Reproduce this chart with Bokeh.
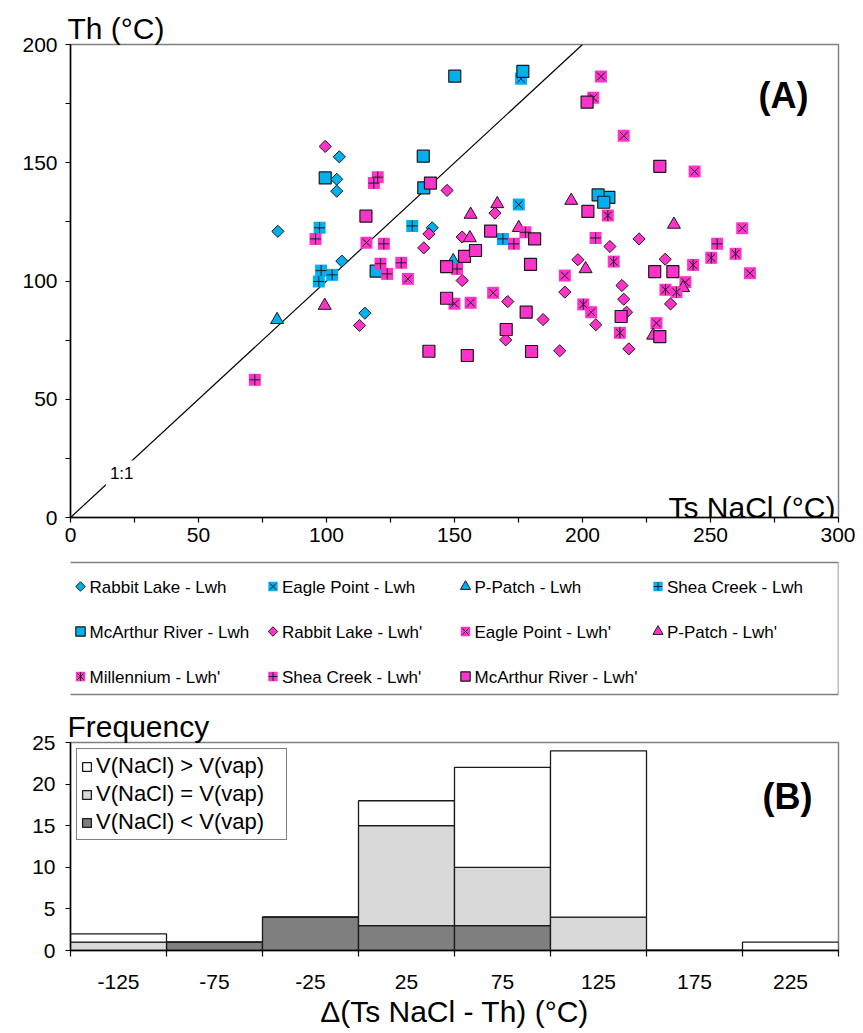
import numpy as np
from bokeh.plotting import figure
from bokeh.models import Range1d, FixedTicker, Label, Legend, LegendItem, ColumnDataSource
from bokeh.layouts import column
from bokeh.core.properties import value
from bokeh.embed import file_html
from bokeh.resources import INLINE

FONT = "Liberation Sans"
CYAN = "#00B0F0"
PINK = "#FF33CC"
EDGE = "#1a1a1a"

# ---------------- data: panel A (Ts NaCl vs Th) ----------------
rl_lwh_x = [81, 105, 104, 104, 106, 115, 141.3]
rl_lwh_y = [121, 152.5, 143, 138, 108.4, 86.4, 122.5]
ep_lwh_x = [176, 175.1]
ep_lwh_y = [185.5, 132.3]
pp_lwh_x = [80.7, 149.5]
pp_lwh_y = [83.6, 108.5]
sc_lwh_x = [97.3, 97.9, 102.2, 97, 133.5, 168.9]
sc_lwh_y = [122.5, 104.4, 102.6, 99.8, 123.3, 117.8]
mr_lwh_x = [150.1, 176.7, 137.8, 99.5, 138, 119.4, 210.3, 206.1, 208.3]
mr_lwh_y = [186.6, 188.6, 152.8, 143.6, 139.4, 104.2, 135.4, 136.4, 133.3]

rl_lwhp_x = [99.5, 147.1, 140, 138, 112.9, 153, 153, 165.8, 198.2, 210.7, 222.1, 193.1,
             170.8, 184.6, 170, 191.1, 205.2, 215.4, 216.1, 217.2, 218.1, 232.3, 234.4]
rl_lwhp_y = [156.9, 138.3, 119.9, 114, 81.2, 118.6, 100.2, 128.7, 109, 114.6, 117.8, 95.3,
             91.3, 83.7, 75.1, 70.5, 81.5, 98.1, 92.3, 86.8, 71.3, 109.2, 90.3]
ep_lwhp_x = [207.2, 204.2, 216.1, 243.8, 115.6, 131.8, 150, 156.3, 165.1, 193.1, 203.4,
             228.9, 262.4, 265.4, 240.2]
ep_lwhp_y = [186.5, 177.5, 161.4, 146.3, 116.2, 100.9, 90.4, 90.8, 95, 102.3, 86.8,
             82.2, 122.3, 103.3, 99.5]
pp_lwhp_x = [99.3, 156.3, 156, 166.7, 175.1, 195.6, 235.7, 201.2, 239.3, 227.6]
pp_lwhp_y = [89.6, 128.1, 118.2, 132.6, 122.5, 134, 123.9, 105.1, 97.1, 77]
mil_lwhp_x = [209.9, 212.2, 200.3, 214.6, 232.4, 243.2, 250.3, 259.8, 236.7]
mil_lwhp_y = [127.7, 108.2, 90.1, 78.1, 96.3, 106.8, 109.8, 111.5, 95.3]
sc_lwhp_x = [72, 120, 118.5, 95.7, 122.4, 121.1, 123.7, 129.2, 151, 173.2, 177.7, 205.1, 252.6]
sc_lwhp_y = [58.2, 143.9, 141.4, 117.8, 115.7, 107.3, 103, 107.7, 105.1, 115.7, 120.6, 118.2, 115.7]
mr_lwhp_x = [140.6, 115.4, 140, 155, 146.9, 146.9, 153.9, 158.2, 164.1, 179.7, 181.3, 202.1,
             201.8, 230.2, 178, 170.2, 180.1, 215.1, 228.2, 230.2, 235.3]
mr_lwhp_y = [141.4, 127.4, 70.3, 68.5, 106.1, 92.7, 110.4, 112.9, 121.1, 107, 117.8, 129.4,
             175.6, 148.5, 86.8, 79.5, 70.2, 85, 104, 76.5, 104]

one_to_one = [0, 200]

series = [
    ("Rabbit Lake - Lwh", "diamond", CYAN, rl_lwh_x, rl_lwh_y),
    ("Eagle Point - Lwh", "sq_x", CYAN, ep_lwh_x, ep_lwh_y),
    ("P-Patch - Lwh", "triangle", CYAN, pp_lwh_x, pp_lwh_y),
    ("Shea Creek - Lwh", "sq_cross", CYAN, sc_lwh_x, sc_lwh_y),
    ("McArthur River - Lwh", "square", CYAN, mr_lwh_x, mr_lwh_y),
    ("Rabbit Lake - Lwh'", "diamond", PINK, rl_lwhp_x, rl_lwhp_y),
    ("Eagle Point - Lwh'", "sq_x", PINK, ep_lwhp_x, ep_lwhp_y),
    ("P-Patch - Lwh'", "triangle", PINK, pp_lwhp_x, pp_lwhp_y),
    ("Millennium - Lwh'", "sq_ast", PINK, mil_lwhp_x, mil_lwhp_y),
    ("Shea Creek - Lwh'", "sq_cross", PINK, sc_lwhp_x, sc_lwhp_y),
    ("McArthur River - Lwh'", "square", PINK, mr_lwhp_x, mr_lwhp_y),
]

# ---------------- data: panel B (histogram) ----------------
bin_centers = [-125, -75, -25, 25, 75, 125, 175, 225]
bin_edges = [-150, -100, -50, 0, 50, 100, 150, 200, 250]
n_lt = [0, 1, 4, 3, 3, 0, 0, 0]    # V(NaCl) < V(vap)
n_eq = [1, 0, 0, 12, 7, 4, 0, 0]   # V(NaCl) = V(vap)
n_gt = [1, 0, 0, 3, 12, 20, 0, 1]  # V(NaCl) > V(vap)
hist_labels = ["V(NaCl) > V(vap)", "V(NaCl) = V(vap)", "V(NaCl) < V(vap)"]


def draw(fig, xs, ys, kind, color, s=1.0):
    if kind == "diamond":
        fig.scatter(xs, ys, marker="square", angle=np.pi / 4, size=8.6 * s,
                    fill_color=color, line_color=EDGE, line_width=1)
    elif kind == "square":
        fig.scatter(xs, ys, marker="square", size=12 * s,
                    fill_color=color, line_color=EDGE, line_width=1.2)
    elif kind == "triangle":
        fig.scatter(xs, ys, marker="triangle", size=13 * s,
                    fill_color=color, line_color=EDGE, line_width=1)
    else:
        fig.scatter(xs, ys, marker="square", size=12 * s, fill_color=color, line_color=None)
        if kind in ("sq_x", "sq_ast"):
            fig.scatter(xs, ys, marker="x", size=11 * s, line_color=EDGE, line_width=1)
        if kind == "sq_cross":
            fig.scatter(xs, ys, marker="cross", size=11 * s, line_color=EDGE, line_width=1)
        if kind == "sq_ast":
            fig.scatter(xs, ys, marker="dash", angle=np.pi / 2, size=11 * s,
                        line_color=EDGE, line_width=1)


def style_axis(ax, major, minor, fsize, standoff, major_out=5, minor_out=5):
    ax.ticker = FixedTicker(ticks=major, minor_ticks=minor)
    ax.major_tick_in = 0
    ax.major_tick_out = major_out
    ax.minor_tick_in = 0
    ax.minor_tick_out = minor_out
    ax.axis_line_color = "black"
    ax.axis_line_width = 1.5
    ax.major_tick_line_width = 1.2
    ax.minor_tick_line_width = 1.2
    ax.major_tick_line_color = "black"
    ax.minor_tick_line_color = "black"
    ax.major_label_text_font = FONT
    ax.major_label_text_font_size = fsize
    ax.major_label_text_color = "black"
    ax.major_label_standoff = standoff


def style_title(fig, text):
    fig.title.text = text
    fig.title.text_font = FONT
    fig.title.text_font_size = "30px"
    fig.title.text_font_style = "normal"
    fig.title.text_color = "black"
    fig.title.align = "left"
    fig.title.standoff = 0
    fig.title.offset = -3


# ---------------- panel A ----------------
pa = figure(width=855, height=557, x_range=Range1d(0, 300), y_range=Range1d(0, 200),
            min_border_left=70, min_border_right=17, min_border_top=44, min_border_bottom=40,
            toolbar_location=None, output_backend="svg",
            outline_line_color="#808080", outline_line_width=1.5)
pa.grid.visible = False
style_title(pa, "Th (°C)")
style_axis(pa.xaxis[0], [0, 50, 100, 150, 200, 250, 300], [25, 75, 125, 175, 225, 275], "21px", 5)
style_axis(pa.yaxis[0], [0, 50, 100, 150, 200], [25, 75, 125, 175], "21px", 8)

pa.line(one_to_one, one_to_one, line_color="black", line_width=1.2)
pa.add_layout(Label(x=20, y=18.4, text="1:1", text_font=FONT, text_font_size="17px",
                    text_color="black", text_align="center", text_baseline="middle",
                    background_fill_color="white", padding=4))

for label, kind, color, xs, ys in series:
    draw(pa, xs, ys, kind, color)

pa.add_layout(Label(x=300, y=0, x_offset=-3, y_offset=10, text="Ts NaCl (°C)", text_font=FONT,
                    text_font_size="30px", text_color="black",
                    text_baseline="alphabetic", text_align="right"))
pa.add_layout(Label(x=300, y=200, x_offset=-30, y_offset=-51, text="(A)", text_font=FONT,
                    text_font_size="36px", text_font_style="bold", text_color="black",
                    text_baseline="alphabetic", text_align="right"))

# ---------------- legend of panel A (its frame is aligned with panel A's frame) ----------------
pl = figure(width=855, height=148, x_range=Range1d(70, 838), y_range=Range1d(148, 0),
            min_border=0, x_axis_location=None, y_axis_location=None,
            toolbar_location=None, output_backend="svg", outline_line_color=None)
pl.grid.visible = False
pl.quad(left=[66], right=[838], top=[5], bottom=[137], fill_color="white",
        line_color="#7f7f7f", line_width=1.5)
col_x = [80, 272.5, 465, 657.5]
row_y = [29, 74, 119]
tx, ty, tt = [], [], []
for i, (label, kind, color, xs, ys) in enumerate(series):
    r, c = divmod(i, 4)
    draw(pl, [col_x[c]], [row_y[r]], kind, color, s=0.78)
    tx.append(col_x[c] + 9)
    ty.append(row_y[r] + 1)
    tt.append(label)
pl.text(x=tx, y=ty, text=tt, text_font=value(FONT), text_font_size="17px",
        text_baseline="middle", text_align="left", text_color="black")

# ---------------- panel B ----------------
pb = figure(width=855, height=328, x_range=Range1d(-150, 250), y_range=Range1d(0, 25),
            min_border_left=70, min_border_right=14, min_border_top=37, min_border_bottom=83,
            toolbar_location=None, output_backend="svg",
            outline_line_color="#808080", outline_line_width=1.5)
pb.grid.visible = False
style_title(pb, "Frequency")
src = ColumnDataSource(dict(x=bin_centers, lt=n_lt, eq=n_eq, gt=n_gt))
rs = pb.vbar_stack(["lt", "eq", "gt"], x="x", width=50, source=src,
                   fill_color=["#7f7f7f", "#d9d9d9", "#ffffff"],
                   line_color="#1a1a1a", line_width=1.3)
style_axis(pb.xaxis[0], bin_centers, bin_edges, "21px", 18, major_out=0, minor_out=6)
pb.xaxis[0].major_label_overrides = {c: str(c) for c in bin_centers}
pb.xaxis[0].axis_label = "Δ(Ts NaCl - Th) (°C)"
pb.xaxis[0].axis_label_text_font = FONT
pb.xaxis[0].axis_label_text_font_size = "30px"
pb.xaxis[0].axis_label_text_font_style = "normal"
pb.xaxis[0].axis_label_text_color = "black"
pb.xaxis[0].axis_label_standoff = 3
style_axis(pb.yaxis[0], [0, 5, 10, 15, 20, 25], [], "21px", 10)

leg = Legend(items=[LegendItem(label=hist_labels[0], renderers=[rs[2]]),
                    LegendItem(label=hist_labels[1], renderers=[rs[1]]),
                    LegendItem(label=hist_labels[2], renderers=[rs[0]])],
             location="top_left")
leg.label_text_font = FONT
leg.label_text_font_size = "22px"
leg.label_text_color = "black"
leg.glyph_width = 11
leg.glyph_height = 11
leg.label_standoff = 4
leg.label_width = 186
leg.spacing = 2
leg.padding = 4
leg.margin = 6
leg.border_line_color = "black"
leg.border_line_width = 1.2
pb.add_layout(leg)

pb.add_layout(Label(x=250, y=25, x_offset=-26, y_offset=-54, text="(B)", text_font=FONT,
                    text_font_size="36px", text_font_style="bold", text_color="black",
                    text_baseline="alphabetic", text_align="right"))

layout = column(pa, pl, pb, spacing=0)
open("out.html", "w").write(file_html(layout, INLINE))
